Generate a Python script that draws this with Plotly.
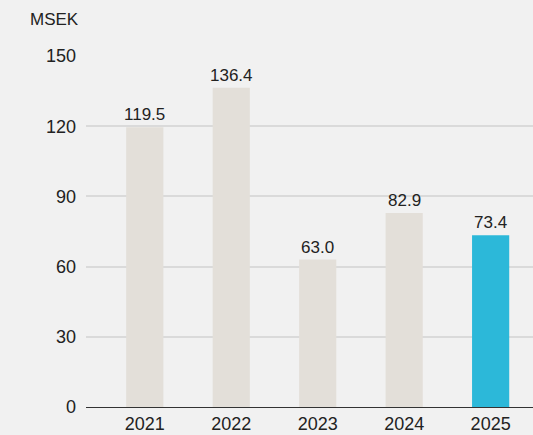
import plotly.graph_objects as go

years = ["2021", "2022", "2023", "2024", "2025"]
values = [119.5, 136.4, 63.0, 82.9, 73.4]
colors = ["#e3dfd9", "#e3dfd9", "#e3dfd9", "#e3dfd9", "#2cb8d9"]
y_ticks = [0, 30, 60, 90, 120, 150]
unit_label = "MSEK"

FONT = "Liberation Sans, Arial, Helvetica"

fig = go.Figure(go.Bar(
    x=years, y=values,
    marker=dict(color=colors, line=dict(width=0)),
    hoverinfo="skip",
    width=0.43,
))

annotations = [dict(
    x=i, y=v, text=f"{v:.1f}", xref="x", yref="y",
    showarrow=False, yanchor="bottom", yshift=1,
    font=dict(family=FONT, size=17, color="#222222"),
) for i, v in enumerate(values)]

annotations.append(dict(
    text=unit_label, xref="paper", yref="paper",
    x=-5 / 447, y=1 + 36 / 351, xanchor="right", yanchor="middle",
    showarrow=False, font=dict(family=FONT, size=17, color="#222222"),
))

fig.update_layout(
    width=533, height=435,
    margin=dict(l=86, r=0, t=56, b=28),
    paper_bgcolor="#f1f1f1",
    plot_bgcolor="rgba(0,0,0,0)",
    showlegend=False,
    font=dict(family=FONT, color="#222222"),
    xaxis=dict(
        type="category",
        range=[-0.68, 4.49],
        showgrid=False, showline=False, ticks="",
        tickfont=dict(size=18, color="#222222"),
        ticklabelstandoff=4,
        automargin=False,
    ),
    yaxis=dict(
        range=[0, 150],
        tickvals=y_ticks,
        showgrid=True, gridcolor="#dadada", gridwidth=1.5,
        zeroline=True, zerolinecolor="#333333", zerolinewidth=1,
        showline=False, ticks="",
        tickfont=dict(size=18, color="#222222"),
        ticklabelstandoff=9,
        automargin=False,
    ),
    annotations=annotations,
)

fig.write_html(
    "out.html",
    config={"displayModeBar": False},
    post_script="document.body.style.margin='0';document.body.style.overflow='hidden';",
)
